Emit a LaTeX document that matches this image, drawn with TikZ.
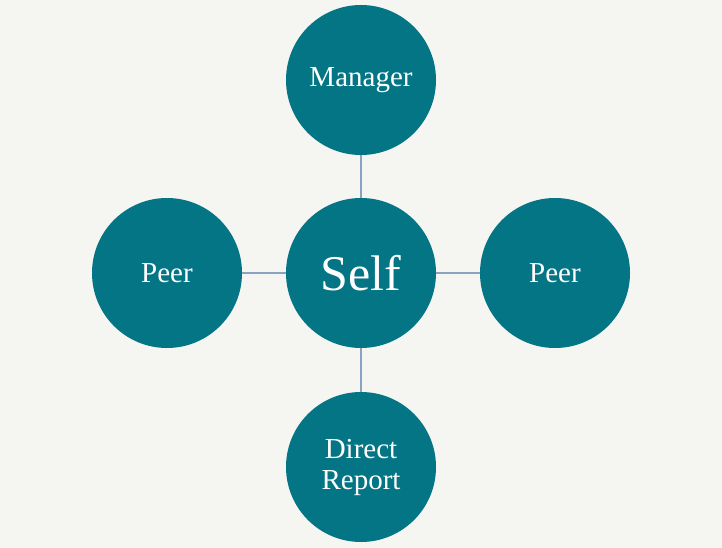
\documentclass[tikz,border=0pt]{standalone}
\usepackage{fontspec}
\setmainfont{Liberation Serif}
\usepackage{tikz}
\usetikzlibrary{positioning}
\usepackage{xcolor}

\definecolor{pagebg}{HTML}{F5F5F2}
\definecolor{tealfill}{HTML}{047585}
\definecolor{linkblue}{HTML}{8AA3C2}

\begin{document}
\begin{tikzpicture}[x=1pt, y=-1pt,
    role/.style={circle, fill=tealfill, text=white, minimum size=150pt,
                 inner sep=0pt, align=center, font=\fontsize{29}{31}\selectfont},
    link/.style={draw=linkblue, line width=1.5pt}]

    % 1. Page background
    \fill[pagebg] (0,0) rectangle (722,548);
    \useasboundingbox (0,0) rectangle (722,548);

    % 2. The centre and the four roles round it
    \node[role, font=\fontsize{50}{56}\selectfont] (self) at (361,273) {Self};
    \node[role] (manager) at (361,80) {Manager};
    \node[role] (peerL) at (167,273) {Peer};
    \node[role] (peerR) at (555,273) {Peer};
    \node[role] (report) at (361,467) {Direct\\Report};

    % 3. Connect each role to the centre
    \draw[link] (self) -- (manager);
    \draw[link] (self) -- (peerL);
    \draw[link] (self) -- (peerR);
    \draw[link] (self) -- (report);

\end{tikzpicture}
\end{document}
